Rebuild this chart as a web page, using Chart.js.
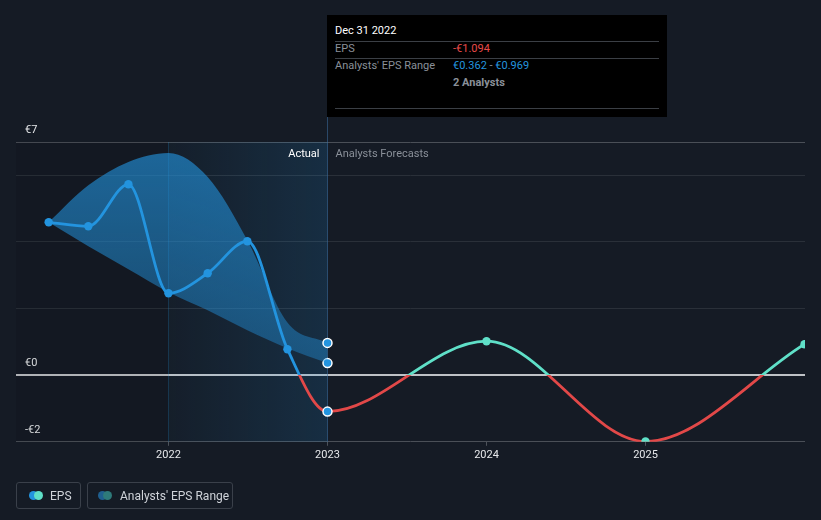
<!DOCTYPE html>
<html>
<head>
<meta charset="utf-8">
<script src="https://cdn.jsdelivr.net/npm/chart.js@4.4.1/dist/chart.umd.min.js"></script>
<style>
  html, body { margin: 0; padding: 0; background: #151b25; }
  body { width: 821px; height: 520px; position: relative; overflow: hidden; font-family: Roboto, "Noto Sans", sans-serif; }
  #wrap { position: absolute; left: 0; top: 0; width: 821px; height: 520px; }
  #tip { position: absolute; left: 327px; top: 15px; width: 340px; height: 102px; background: #000; color: #8a9099; font-size: 11px; box-sizing: border-box; }
  #tip .date { position: absolute; left: 8px; top: 9px; color: #fff; font-size: 11px; }
  #tip .sep { position: absolute; left: 8px; width: 324px; height: 1px; background: #3b3f45; }
  #tip .lab { position: absolute; left: 8px; }
  #tip .val { position: absolute; left: 126px; }
  .legend { position: absolute; top: 482px; height: 27px; border: 1px solid #3a404a; border-radius: 3px; box-sizing: border-box; color: #cfd3d9; font-size: 12px; }
  .legend .t { position: absolute; top: 6px; }
  .dot { position: absolute; top: 8px; width: 9px; height: 9px; border-radius: 50%; }
</style>
</head>
<body>
<div id="wrap"><canvas id="c" width="821" height="520"></canvas></div>

<div id="tip">
  <div class="date">Dec 31 2022</div>
  <div class="sep" style="top:26px"></div>
  <div class="lab" style="top:27px">EPS</div>
  <div class="val" style="top:27px;color:#e84a4a">-€1.094</div>
  <div class="sep" style="top:43px"></div>
  <div class="lab" style="top:44px">Analysts' EPS Range</div>
  <div class="val" style="top:44px"><span style="color:#2394df">€0.362</span> - <span style="color:#2394df">€0.969</span></div>
  <div class="val" style="top:61px;font-weight:bold">2 Analysts</div>
  <div class="sep" style="top:93px"></div>
</div>

<div class="legend" style="left:16px;width:65px">
  <div class="dot" style="left:12px;background:#2394df"></div>
  <div class="dot" style="left:17px;background:#5fe0c8"></div>
  <div class="t" style="left:33px">EPS</div>
</div>
<div class="legend" style="left:87px;width:146px">
  <div class="dot" style="left:10px;background:#1f5f8f"></div>
  <div class="dot" style="left:15px;background:#2e7a7a"></div>
  <div class="t" style="left:32px">Analysts' EPS Range</div>
</div>

<script>
// ---- data ----
const epsDates = ["2021-03-31","2021-06-30","2021-09-30","2021-12-31","2022-03-31","2022-06-30","2022-09-30","2022-12-31","2023-12-31","2024-12-31","2025-12-31"];
const epsValues = [4.59, 4.47, 5.73, 2.46, 3.06, 4.02, 0.78, -1.094, 1.02, -1.99, 0.93];
const forecastStart = "2022-12-31";
const rangeDates = ["2021-03-31","2021-06-30","2021-09-30","2021-12-31","2022-03-31","2022-06-30","2022-09-30","2022-12-31"];
const rangeHigh = [4.59, 5.70, 6.40, 6.67, 5.95, 4.05, 1.58, 0.969];
const rangeLow  = [4.59, 3.87, 3.18, 2.49, 1.95, 1.35, 0.81, 0.362];
const yTickValues = [-2, 0, 2, 4, 6, 7];
const yLabelValues = [7, 0, -2];
const xTickValues = [2022, 2023, 2024, 2025];
const xMinDate = "2021-01-15";
const xMaxDate = "2025-12-31";

function toYear(s) {
  const d = new Date(s + "T00:00:00Z");
  const y = d.getUTCFullYear();
  const a = Date.UTC(y, 0, 1), b = Date.UTC(y + 1, 0, 1);
  return y + (d.getTime() - a + 86400000) / (b - a);
}
const fcX = toYear(forecastStart);
const epsPts = epsDates.map((d, i) => ({ x: toYear(d), y: epsValues[i] }));
const hiPts = rangeDates.map((d, i) => ({ x: toYear(d), y: rangeHigh[i] }));
const loPts = rangeDates.map((d, i) => ({ x: toYear(d), y: rangeLow[i] }));

const BLUE = "#2394df", TEAL = "#5fe0c8", RED = "#e24848";

function splitGrad(chart, above, below) {
  const { ctx, chartArea, scales } = chart;
  if (!chartArea) return above;
  const z = scales.y.getPixelForValue(0);
  const g = ctx.createLinearGradient(0, chartArea.top, 0, chartArea.bottom);
  let f = (z - chartArea.top) / (chartArea.bottom - chartArea.top);
  f = Math.min(Math.max(f, 0), 1);
  g.addColorStop(0, above); g.addColorStop(f, above);
  g.addColorStop(f, below); g.addColorStop(1, below);
  return g;
}

const bgPlugin = {
  id: "bg",
  beforeDatasetsDraw(chart) {
    const { ctx, chartArea: a, scales } = chart;
    const x22 = scales.x.getPixelForValue(2022);
    const x23 = scales.x.getPixelForValue(fcX);
    ctx.save();
    ctx.fillStyle = "rgba(0,0,0,0.08)";
    ctx.fillRect(a.left, a.top, x22 - a.left, a.bottom - a.top);
    const g = ctx.createLinearGradient(x22, 0, x23, 0);
    g.addColorStop(0, "rgba(35,148,223,0.03)");
    g.addColorStop(1, "rgba(35,148,223,0.16)");
    ctx.fillStyle = g;
    ctx.fillRect(x22, a.top, x23 - x22, a.bottom - a.top);
    ctx.strokeStyle = "rgba(35,148,223,0.22)";
    ctx.lineWidth = 1;
    ctx.beginPath(); ctx.moveTo(Math.round(x22) + 0.5, a.top); ctx.lineTo(Math.round(x22) + 0.5, a.bottom); ctx.stroke();
    ctx.strokeStyle = "rgba(60,110,160,0.55)";
    ctx.beginPath(); ctx.moveTo(Math.round(x23) + 0.5, 117); ctx.lineTo(Math.round(x23) + 0.5, a.bottom); ctx.stroke();
    ctx.font = "11px Roboto, 'Noto Sans', sans-serif";
    ctx.textBaseline = "middle";
    ctx.textAlign = "right"; ctx.fillStyle = "#ffffff";
    ctx.fillText("Actual", x23 - 8, a.top + 12);
    ctx.textAlign = "left"; ctx.fillStyle = "#8a9099";
    ctx.fillText("Analysts Forecasts", x23 + 8, a.top + 12);
    ctx.restore();
  }
};

const lastIdx = rangeDates.length - 1;
const hoverIdx = epsDates.indexOf(forecastStart);

new Chart(document.getElementById("c"), {
  type: "line",
  data: {
    datasets: [
      {
        label: "high", data: hiPts, order: 3,
        borderWidth: 0, borderColor: "rgba(0,0,0,0)",
        backgroundColor: (c) => {
          const ch = c.chart; if (!ch.chartArea) return "rgba(35,148,223,0.5)";
          const g = ch.ctx.createLinearGradient(0, ch.chartArea.top, 0, ch.scales.y.getPixelForValue(0));
          g.addColorStop(0, "rgba(35,148,223,0.64)");
          g.addColorStop(1, "rgba(35,148,223,0.38)");
          return g;
        },
        fill: "+1", cubicInterpolationMode: "monotone",
        pointRadius: (c) => c.dataIndex === lastIdx ? 4.5 : 0,
        pointBackgroundColor: BLUE, pointBorderColor: "#ffffff", pointBorderWidth: 1.5
      },
      {
        label: "low", data: loPts, order: 3,
        borderWidth: 0, borderColor: "rgba(0,0,0,0)", fill: false, cubicInterpolationMode: "monotone",
        pointRadius: (c) => c.dataIndex === lastIdx ? 4.5 : 0,
        pointBackgroundColor: BLUE, pointBorderColor: "#ffffff", pointBorderWidth: 1.5
      },
      {
        label: "EPS", data: epsPts, order: 1,
        borderWidth: 2.8, fill: false, cubicInterpolationMode: "monotone", clip: 0,
        borderColor: BLUE,
        segment: {
          borderColor: (c) => c.p0.parsed.x < fcX - 0.001 ? splitGrad(c.chart, BLUE, RED) : splitGrad(c.chart, TEAL, RED)
        },
        pointRadius: (c) => c.dataIndex === hoverIdx ? 4.5 : 4.2,
        pointBackgroundColor: (c) => (c.raw && c.raw.x <= fcX + 0.001) ? BLUE : TEAL,
        pointBorderColor: (c) => c.dataIndex === hoverIdx ? "#ffffff" : "rgba(0,0,0,0)",
        pointBorderWidth: (c) => c.dataIndex === hoverIdx ? 1.5 : 0
      }
    ]
  },
  options: {
    responsive: false, animation: false,
    layout: { padding: { top: 142, left: 16, right: 16, bottom: 55 } },
    plugins: { legend: { display: false }, tooltip: { enabled: false } },
    events: [],
    scales: {
      x: {
        type: "linear", min: toYear(xMinDate), max: toYear(xMaxDate) + 0.003,
        afterBuildTicks: (s) => { s.ticks = xTickValues.map(v => ({ value: v })); },
        grid: { drawOnChartArea: false, drawTicks: true, tickLength: 4, color: "#4d525a" },
        border: { display: false },
        ticks: { color: "#e6e8eb", font: { size: 11, family: "Roboto, 'Noto Sans', sans-serif" }, padding: 3, maxRotation: 0, callback: (v) => String(v) }
      },
      y: {
        min: -2, max: 7,
        afterBuildTicks: (s) => { s.ticks = yTickValues.map(v => ({ value: v })); },
        afterFit: (s) => { s.width = 0; },
        grid: {
          drawTicks: false,
          color: (c) => c.tick.value === 0 ? "#bfc2c6" : (c.tick.value === -2 || c.tick.value === 7 ? "#4a4f57" : "#2a3039"),
          lineWidth: (c) => c.tick.value === 0 ? 2 : 1
        },
        border: { display: false },
        ticks: {
          mirror: true, padding: 9, labelOffset: -12, color: "#e6e8eb",
          font: { size: 11, family: "Roboto, 'Noto Sans', sans-serif" },
          callback: (v) => yLabelValues.includes(v) ? (v < 0 ? "-€" + Math.abs(v) : "€" + v) : ""
        }
      }
    }
  },
  plugins: [bgPlugin]
});
</script>
</body>
</html>
